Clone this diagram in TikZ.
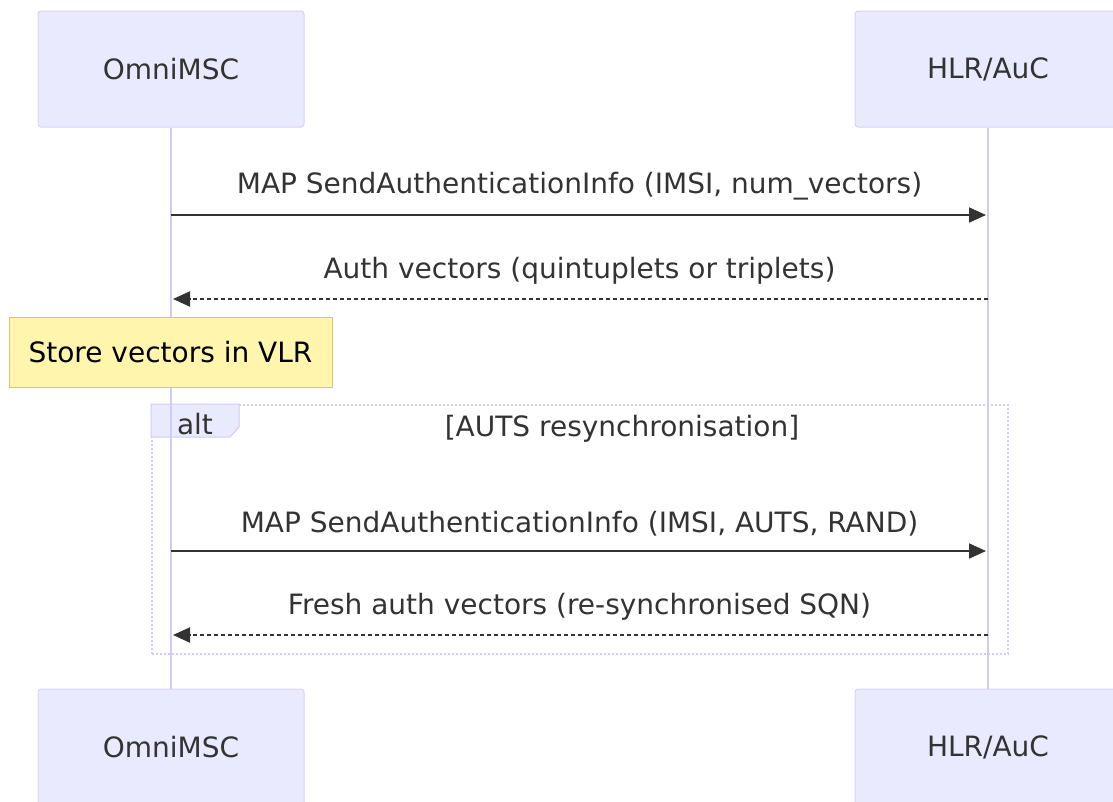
\documentclass[tikz,border=0pt]{standalone}
\usepackage{fontspec}
\setmainfont{DejaVu Sans}
\usetikzlibrary{arrows.meta,positioning}
\definecolor{actorfill}{RGB}{234,234,255}
\definecolor{actorline}{RGB}{216,210,245}
\definecolor{lifecolor}{RGB}{212,202,242}
\definecolor{notefill}{RGB}{255,245,173}
\definecolor{noteline}{RGB}{208,204,110}
\definecolor{msgcolor}{RGB}{51,51,51}

\begin{document}
\begin{tikzpicture}[x=1pt, y=-1pt,
    actor/.style={rectangle, draw=actorline, fill=actorfill, rounded corners=3pt, line width=1pt, minimum width=266pt, minimum height=116pt, font=\fontsize{28}{32}\selectfont, text=msgcolor},
    life/.style={draw=lifecolor, line width=1.6pt},
    msg/.style={-{Triangle[length=17pt,width=15pt]}, draw=msgcolor, line width=2pt, shorten >=2pt},
    reply/.style={msg, dash pattern=on 4pt off 3pt},
    lbl/.style={midway, above=14pt, inner sep=0pt, text=msgcolor, font=\fontsize{28}{32}\selectfont},
    note/.style={rectangle, draw=noteline, fill=notefill, line width=1pt, minimum width=323pt, minimum height=70pt, font=\fontsize{28}{32}\selectfont, text=black},
    altframe/.style={rectangle, draw=lifecolor, line width=2pt, dash pattern=on 2pt off 2pt, minimum width=856pt, minimum height=249pt},
    alttab/.style={draw=lifecolor, fill=actorfill, line width=1pt},
    cond/.style={text=msgcolor, font=\fontsize{28}{32}\selectfont}
]
\useasboundingbox (0,0) rectangle (1113,801);

% actors
\node[actor] (mscTop) at (171,69) {OmniMSC};
\node[actor] (hlrTop) at (988,69) {HLR/AuC};
\node[actor] (mscBot) at (171,747) {OmniMSC};
\node[actor] (hlrBot) at (988,747) {HLR/AuC};

% alt block
\node[altframe] (alt) at (580,529.5) {};
\draw[alttab] (alt.north west) -- ++(88,0) -- ++(0,23) -- ++(-9,10) -- ++(-79,0) -- cycle;
\node[cond] (altlbl) at (195,424) {alt};
\node[cond] (altcond) at (622,429) {[AUTS resynchronisation]};

% lifelines
\draw[life] (mscTop) -- (mscBot);
\draw[life] (hlrTop) -- (hlrBot);

\node[note] (vlr) at (170.5,352) {Store vectors in VLR};

% message ends
\foreach \y/\n in {215/a, 299/b, 551/c, 635/d} {
    \coordinate (msc\n) at (171,\y);
    \coordinate (hlr\n) at (988,\y);
}

\draw[msg] (msca) -- node[lbl] {MAP SendAuthenticationInfo (IMSI, num\_vectors)} (hlra);
\draw[reply] (hlrb) -- node[lbl] {Auth vectors (quintuplets or triplets)} (mscb);
\draw[msg] (mscc) -- node[lbl] {MAP SendAuthenticationInfo (IMSI, AUTS, RAND)} (hlrc);
\draw[reply] (hlrd) -- node[lbl] {Fresh auth vectors (re-synchronised SQN)} (mscd);
\end{tikzpicture}
\end{document}
